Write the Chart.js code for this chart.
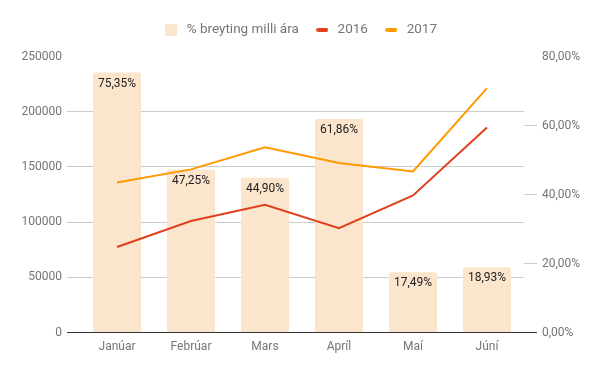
<!DOCTYPE html>
<html>
<head>
<meta charset="utf-8">
<script src="https://cdn.jsdelivr.net/npm/chart.js@4"></script>
<style>
html,body{margin:0;padding:0;background:#fff;}
#wrap{width:600px;height:371px;position:relative;}
</style>
</head>
<body>
<div id="wrap"><canvas id="c" width="600" height="371"></canvas></div>
<script>
const categories = ['Janúar','Febrúar','Mars','Apríl','Maí','Júní'];
const changePct = [75.35, 47.25, 44.90, 61.86, 17.49, 18.93];
const values2016 = [77500, 101000, 115800, 94600, 124200, 185800];
const values2017 = [136000, 147800, 167700, 153500, 145900, 221300];
const leftTicks = [0, 50000, 100000, 150000, 200000, 250000];
const rightTicks = [0, 20, 40, 60, 80];

const GRID = '#cccccc';
const BASE = '#333333';
const TXT = '#757575';
const BAR = '#fce5cd';
const C16 = '#e0401c';
const C17 = '#ff9900';
const fmtPct = v => v.toFixed(2).replace('.', ',') + '%';

function swatch(w, h, color) {
  const cv = document.createElement('canvas');
  cv.width = w; cv.height = h;
  const g = cv.getContext('2d');
  g.fillStyle = color;
  if (h < w) {
    g.beginPath();
    const r = h / 2;
    g.moveTo(r, 0); g.lineTo(w - r, 0);
    g.arc(w - r, r, r, -Math.PI / 2, Math.PI / 2);
    g.lineTo(r, h);
    g.arc(r, r, r, Math.PI / 2, Math.PI * 1.5);
    g.fill();
  } else {
    g.fillRect(0, 0, w, h);
  }
  return cv;
}

const barLabels = {
  id: 'barLabels',
  afterDatasetsDraw(chart) {
    const meta = chart.getDatasetMeta(0);
    const ctx = chart.ctx;
    ctx.save();
    ctx.font = '12px Roboto';
    ctx.fillStyle = '#222222';
    ctx.textAlign = 'center';
    ctx.textBaseline = 'middle';
    meta.data.forEach((el, i) => {
      ctx.fillText(fmtPct(changePct[i]), el.x, el.y + 11);
    });
    ctx.restore();
  }
};

const legendGap = {
  id: 'legendGap',
  beforeInit(chart) {
    const orig = chart.legend.fit;
    chart.legend.fit = function () {
      orig.call(this);
      this.height += 10;
    };
  }
};

new Chart(document.getElementById('c'), {
  data: {
    labels: categories,
    datasets: [
      {
        type: 'bar',
        label: '% breyting milli ára',
        data: changePct,
        yAxisID: 'y1',
        backgroundColor: BAR,
        borderRadius: {topLeft: 2, topRight: 2},
        borderSkipped: 'bottom',
        categoryPercentage: 1,
        barPercentage: 0.65,
        order: 3
      },
      {
        type: 'line',
        label: '2016',
        data: values2016,
        yAxisID: 'y',
        borderColor: C16,
        backgroundColor: C16,
        borderWidth: 2,
        pointRadius: 0,
        tension: 0,
        order: 2
      },
      {
        type: 'line',
        label: '2017',
        data: values2017,
        yAxisID: 'y',
        borderColor: C17,
        backgroundColor: C17,
        borderWidth: 2,
        pointRadius: 0,
        tension: 0,
        order: 1
      }
    ]
  },
  options: {
    responsive: false,
    animation: false,
    layout: {padding: {left: 20, right: 20, top: 8, bottom: 10}},
    plugins: {
      tooltip: {enabled: false},
      legend: {
        display: true,
        position: 'top',
        labels: {
          font: {family: 'Roboto', size: 13.5},
          color: TXT,
          usePointStyle: true,
          pointStyleWidth: 17,
          boxHeight: 12,
          padding: 15,
          generateLabels(chart) {
            return chart.data.datasets.map((ds, i) => ({
              text: ds.label,
              fillStyle: ds.backgroundColor,
              strokeStyle: ds.backgroundColor,
              lineWidth: 0,
              pointStyle: ds.type === 'bar' ? swatch(12, 12, BAR) : swatch(12, 4, ds.borderColor),
              fontColor: TXT,
              hidden: false,
              datasetIndex: i
            }));
          }
        }
      }
    },
    scales: {
      x: {
        offset: true,
        grid: {display: false, drawTicks: false},
        border: {display: false},
        ticks: {font: {family: 'Roboto', size: 12}, color: TXT, padding: 7, maxRotation: 0}
      },
      y: {
        position: 'left',
        min: 0, max: 250000,
        afterBuildTicks(axis) { axis.ticks = leftTicks.map(v => ({value: v})); },
        afterFit(axis) { axis.width = 60; },
        border: {display: false},
        grid: {
          color: c => c.tick.value === 0 ? BASE : (c.tick.value === 250000 ? 'rgba(0,0,0,0)' : GRID),
          lineWidth: 1,
          drawTicks: true,
          tickLength: 13
        },
        ticks: {font: {family: 'Roboto', size: 12}, color: TXT, padding: 5, callback: v => String(v)}
      },
      y1: {
        position: 'right',
        min: 0, max: 80,
        afterBuildTicks(axis) { axis.ticks = rightTicks.map(v => ({value: v})); },
        afterFit(axis) { axis.width = 56; },
        border: {display: false},
        grid: {
          drawOnChartArea: false,
          color: c => c.tick.value === 0 ? BASE : (c.tick.value === 80 ? 'rgba(0,0,0,0)' : GRID),
          lineWidth: 1,
          drawTicks: true,
          tickLength: 13
        },
        ticks: {font: {family: 'Roboto', size: 12}, color: TXT, padding: 5, callback: v => fmtPct(v)}
      }
    }
  },
  plugins: [barLabels, legendGap]
});
</script>
</body>
</html>
